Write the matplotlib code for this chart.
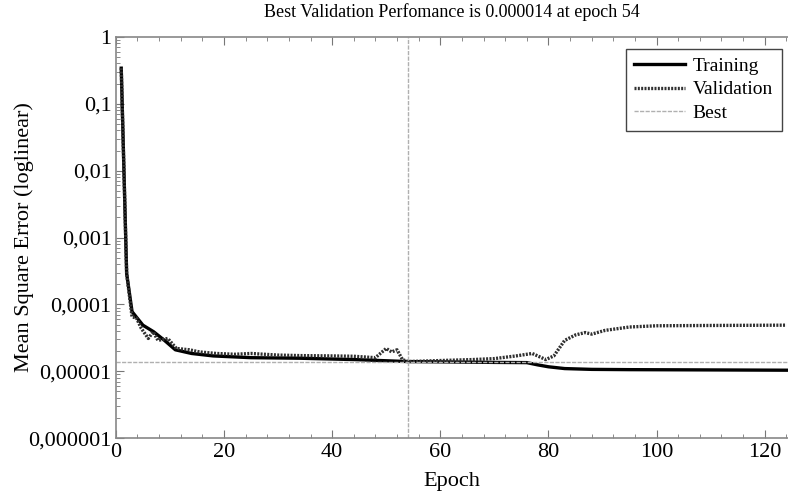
import numpy as np
import matplotlib.pyplot as plt
from matplotlib.ticker import FixedLocator, FixedFormatter, LogLocator, MultipleLocator, NullFormatter

# values
train_epoch = [1, 2, 3, 5, 7, 9, 11, 14, 18, 25, 34, 44, 54, 62, 70, 76, 78, 80, 83, 88, 95, 110, 124]
train_mse = [0.34, 2.9e-4, 7.8e-5, 4.9e-5, 3.9e-5, 2.9e-5, 2.1e-5, 1.85e-5, 1.7e-5, 1.6e-5, 1.57e-5,
             1.5e-5, 1.4e-5, 1.38e-5, 1.36e-5, 1.35e-5, 1.25e-5, 1.17e-5, 1.1e-5, 1.07e-5, 1.06e-5,
             1.05e-5, 1.04e-5]

val_epoch = [1, 2, 3, 3.8, 4.7, 6, 6.9, 7.8, 9.6, 11.2, 13.6, 15.5, 18.6, 22, 25, 30, 34, 40, 44, 48,
             50, 51, 52, 53, 54, 60, 66, 70, 74, 77, 79.5, 81, 83, 85, 86.8, 88, 90.5, 95, 100, 110, 124]
val_mse = [0.34, 2.9e-4, 6.5e-5, 6.3e-5, 4.4e-5, 3.1e-5, 3.9e-5, 2.9e-5, 3.1e-5, 2.2e-5, 2.1e-5, 1.95e-5,
           1.85e-5, 1.8e-5, 1.85e-5, 1.75e-5, 1.72e-5, 1.7e-5, 1.68e-5, 1.6e-5,
           2.2e-5, 1.95e-5, 2.1e-5, 1.5e-5, 1.4e-5, 1.45e-5, 1.5e-5, 1.55e-5, 1.7e-5, 1.85e-5,
           1.5e-5, 1.7e-5, 2.9e-5, 3.5e-5, 3.8e-5, 3.6e-5, 4.1e-5, 4.6e-5, 4.8e-5, 4.85e-5, 4.9e-5]

best_epoch = 54
best_mse = 1.4e-5

ytick_vals = [1e-6, 1e-5, 1e-4, 1e-3, 1e-2, 1e-1, 1]
ytick_labels = ["0,000001", "0,00001", "0,0001", "0,001", "0,01", "0,1", "1"]

plt.rcParams['font.family'] = ['Liberation Serif', 'DejaVu Serif']

fig = plt.figure(figsize=(7.88, 4.98), dpi=100)
ax = fig.add_axes([0.147, 0.12, 0.853, 0.806])

ax.semilogy(train_epoch, train_mse, color='black', lw=2.4, label='Training')
ax.semilogy(val_epoch, val_mse, color='#303030', lw=2.4, ls=(0, (0.6, 0.4)), label='Validation')
ax.axhline(best_mse, color='#b0b0b0', lw=1.0, ls=(0, (3, 1)), label='Best')
ax.axvline(best_epoch, color='#b0b0b0', lw=1.0, ls=(0, (3, 1)))

ax.set_xlim(0, 124.3)
ax.set_ylim(1e-6, 1)
ax.xaxis.set_major_locator(MultipleLocator(20))
ax.xaxis.set_minor_locator(MultipleLocator(4))
ax.yaxis.set_major_locator(FixedLocator(ytick_vals))
ax.yaxis.set_major_formatter(FixedFormatter(ytick_labels))
ax.yaxis.set_minor_locator(LogLocator(base=10, subs=np.arange(2, 10)))
ax.yaxis.set_minor_formatter(NullFormatter())
ax.tick_params(which='both', direction='in', top=True, right=False, colors='#777777',
               labelcolor='black', labelsize=16)
ax.tick_params(which='major', length=6)
ax.tick_params(which='minor', length=3)
ax.tick_params(axis='y', pad=3)
for s in ['left', 'bottom', 'top']:
    ax.spines[s].set_color('#888888')
    ax.spines[s].set_linewidth(1.2)
ax.spines['right'].set_visible(False)

ax.set_title("Best Validation Perfomance is 0.000014 at epoch 54", fontsize=13, pad=14)
ax.set_xlabel("Epoch", fontsize=16, labelpad=7)
ax.set_ylabel("Mean Square Error (loglinear)", fontsize=16, labelpad=-4)

leg = ax.legend(loc='upper right', fontsize=14, fancybox=False, framealpha=1,
                edgecolor='#444444', handlelength=2.6, borderpad=0.45, labelspacing=0.3,
                handletextpad=0.4, bbox_to_anchor=(1.005, 0.995))
leg.get_frame().set_linewidth(1.0)

fig.savefig("out.png", dpi=100)
